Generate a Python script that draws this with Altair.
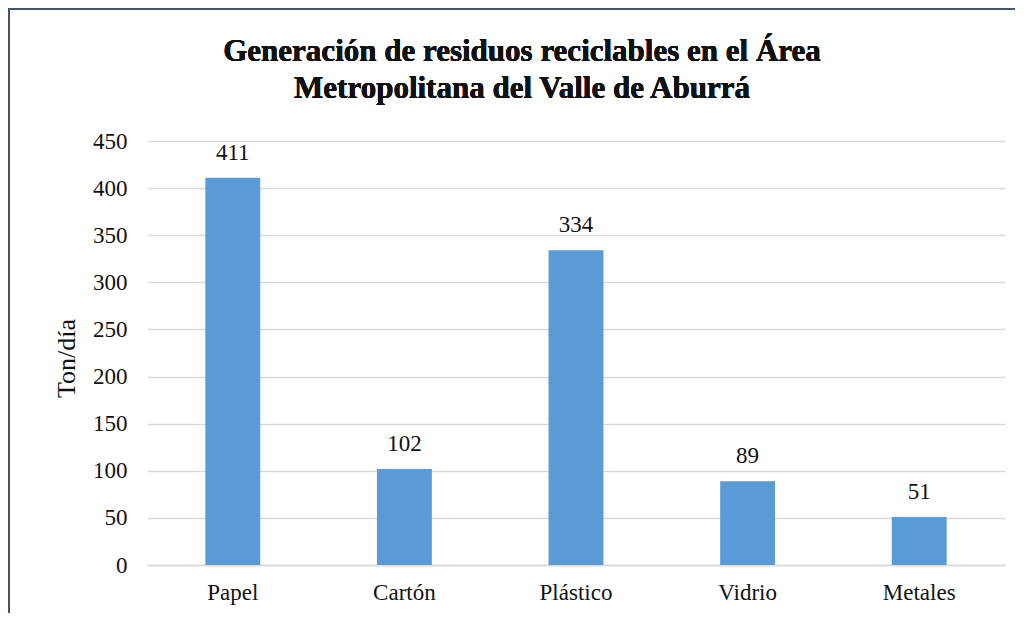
import altair as alt
import pandas as pd

categories = ["Papel", "Cartón", "Plástico", "Vidrio", "Metales"]
values = [411, 102, 334, 89, 51]
y_ticks = [0, 50, 100, 150, 200, 250, 300, 350, 400, 450]
title_lines = ["Generación de residuos reciclables en el Área", "Metropolitana del Valle  de Aburrá"]

df = pd.DataFrame({"cat": categories, "val": values})

W, H = 858, 424
PL, PT, PR, PB = 139, 133, 10, 48
FONT = "Liberation Serif"
BLUE = "#5B9BD5"
TXT = "#111111"

x_enc = alt.X("cat:N", sort=categories, title=None,
              scale=alt.Scale(paddingInner=0.68, paddingOuter=0.34),
              axis=alt.Axis(labelFont=FONT, labelFontSize=23, labelColor=TXT,
                            labelAngle=0, labelPadding=16, ticks=False,
                            domainColor="#D9D9D9", domainWidth=1.5))
y_enc = alt.Y("val:Q", title="Ton/día",
              scale=alt.Scale(domain=[0, 450], nice=False),
              axis=alt.Axis(values=y_ticks, labelFont=FONT, labelFontSize=23,
                            labelColor=TXT, labelPadding=20, ticks=False,
                            domain=False, gridColor="#D9D9D9", gridWidth=1.3,
                            titleFont=FONT, titleFontSize=26, titleFontWeight="normal",
                            titleColor=TXT, titleAngle=-90,
                            titleX=-73, titleY=217, titleAlign="center",
                            titleBaseline="alphabetic"))

bars = alt.Chart(df).mark_bar(color=BLUE).encode(x=x_enc, y=y_enc)
labels = alt.Chart(df).mark_text(font=FONT, fontSize=23, color=TXT,
                                 baseline="alphabetic", dy=-18).encode(
    x=alt.X("cat:N", sort=categories), y="val:Q", text="val:Q")

title = alt.Chart(df).mark_text(text=title_lines, font=FONT, fontSize=31,
                                fontWeight="bold", color=TXT, align="center",
                                baseline="alphabetic", lineHeight=37,
                                clip=False).encode(
    x=alt.value(375), y=alt.value(-80))

frame_left = alt.Chart(df).mark_rule(color="#44546A", strokeWidth=2, clip=False).encode(
    x=alt.value(-PL + 1), y=alt.value(-PT), y2=alt.value(H + PB))
frame_top = alt.Chart(df).mark_rule(color="#44546A", strokeWidth=2, clip=False).encode(
    y=alt.value(-PT + 1), x=alt.value(-PL), x2=alt.value(W + PR))

chart = alt.layer(bars, labels, title, frame_left, frame_top).properties(
    width=W, height=H,
    background="white",
    autosize=alt.AutoSizeParams(type="none"),
    padding={"left": PL, "top": PT, "right": PR, "bottom": PB},
).configure_view(strokeWidth=0, stroke=None)

chart.save("out.html", embed_options={"renderer": "svg", "actions": False})
